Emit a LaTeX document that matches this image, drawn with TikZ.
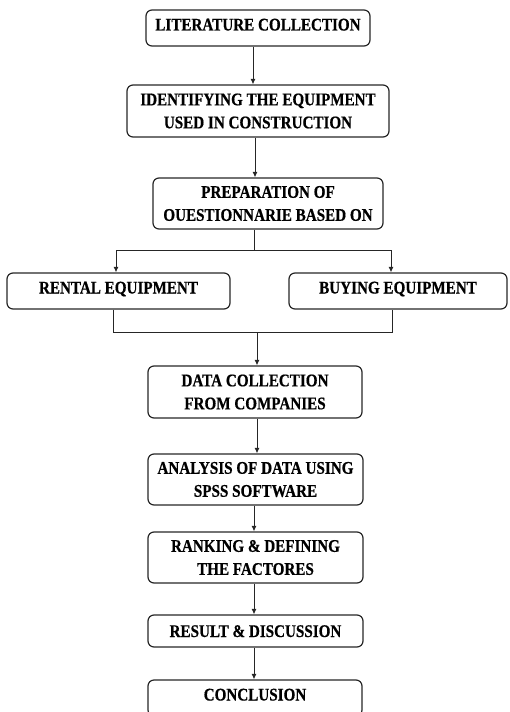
\documentclass[tikz,border=0pt]{standalone}
\usepackage{fontspec}
\newfontfamily\boxfont{Liberation Serif}[FakeStretch=0.85, FakeBold=0.6]
\usetikzlibrary{arrows.meta}

\tikzset{
  stepbox/.style={draw=black!85, line width=1.2pt, rounded corners=6pt,
    inner sep=0pt, align=center, font=\boxfont\bfseries\fontsize{17.8}{23}\selectfont},
  oneline/.style={text height=12pt, text depth=7pt},
  link/.style={line width=1pt, draw=black!85},
  arr/.style={link, -{Latex[length=5.5pt,width=5pt]}}
}

\begin{document}
\begin{tikzpicture}[x=1pt, y=-1pt]
  \useasboundingbox (0,0) rectangle (509,712);
  \clip (0,0) rectangle (509,712);

  % process steps
  \node[stepbox, oneline, minimum width=224pt, minimum height=36pt] (lit) at (258,28) {LITERATURE COLLECTION};
  \node[stepbox, minimum width=262pt, minimum height=52pt] (ident) at (258,111) {IDENTIFYING THE EQUIPMENT\\USED IN CONSTRUCTION};
  \node[stepbox, minimum width=230pt, minimum height=51pt] (prep) at (268,203.5) {PREPARATION OF\\OUESTIONNARIE BASED ON};
  \node[stepbox, oneline, minimum width=223pt, minimum height=36pt] (rent) at (118.5,291) {RENTAL EQUIPMENT};
  \node[stepbox, oneline, minimum width=218pt, minimum height=36pt] (buy) at (398,291) {BUYING EQUIPMENT};
  \node[stepbox, minimum width=214pt, minimum height=52pt] (data) at (255,392) {DATA COLLECTION\\FROM COMPANIES};
  \node[stepbox, minimum width=215pt, minimum height=51pt] (anal) at (255.5,479.5) {ANALYSIS OF DATA USING\\SPSS SOFTWARE};
  \node[stepbox, minimum width=215pt, minimum height=51pt] (rank) at (255.5,557.5) {RANKING \& DEFINING\\THE FACTORES};
  \node[stepbox, minimum width=215pt, minimum height=32pt, text height=12pt, text depth=0pt] (res) at (255.5,631) {RESULT \& DISCUSSION};
  \node[stepbox, oneline, minimum width=214pt, minimum height=36pt] (conc) at (255,698) {CONCLUSION};

  % connector guide points
  \coordinate (c1) at (253,0);
  \coordinate (c2) at (255,0);
  \coordinate (split) at (254,250);
  \coordinate (lsplit) at (116,250);
  \coordinate (rsplit) at (391,250);
  \coordinate (lmerge) at (113,332);
  \coordinate (rmerge) at (392,332);
  \coordinate (merge) at (257,332);
  \coordinate (c3) at (257,0);
  \coordinate (c4) at (254,0);

  % connectors
  \draw[arr] (lit.south -| c1) -- (ident.north -| c1);
  \draw[arr] (ident.south -| c2) -- (prep.north -| c2);
  \draw[link] (prep.south -| split) -- (split);
  \draw[link] (lsplit) -- (rsplit);
  \draw[arr] (lsplit) -- (rent.north -| lsplit);
  \draw[arr] (rsplit) -- (buy.north -| rsplit);
  \draw[link] (rent.south -| lmerge) -- (lmerge) -- (rmerge) -- (buy.south -| rmerge);
  \draw[arr] (merge) -- (data.north -| merge);
  \draw[arr] (data.south -| c3) -- (anal.north -| c3);
  \draw[arr] (anal.south -| c4) -- (rank.north -| c4);
  \draw[arr] (rank.south -| c4) -- (res.north -| c4);
  \draw[arr] (res.south -| c4) -- (conc.north -| c4);
\end{tikzpicture}
\end{document}
